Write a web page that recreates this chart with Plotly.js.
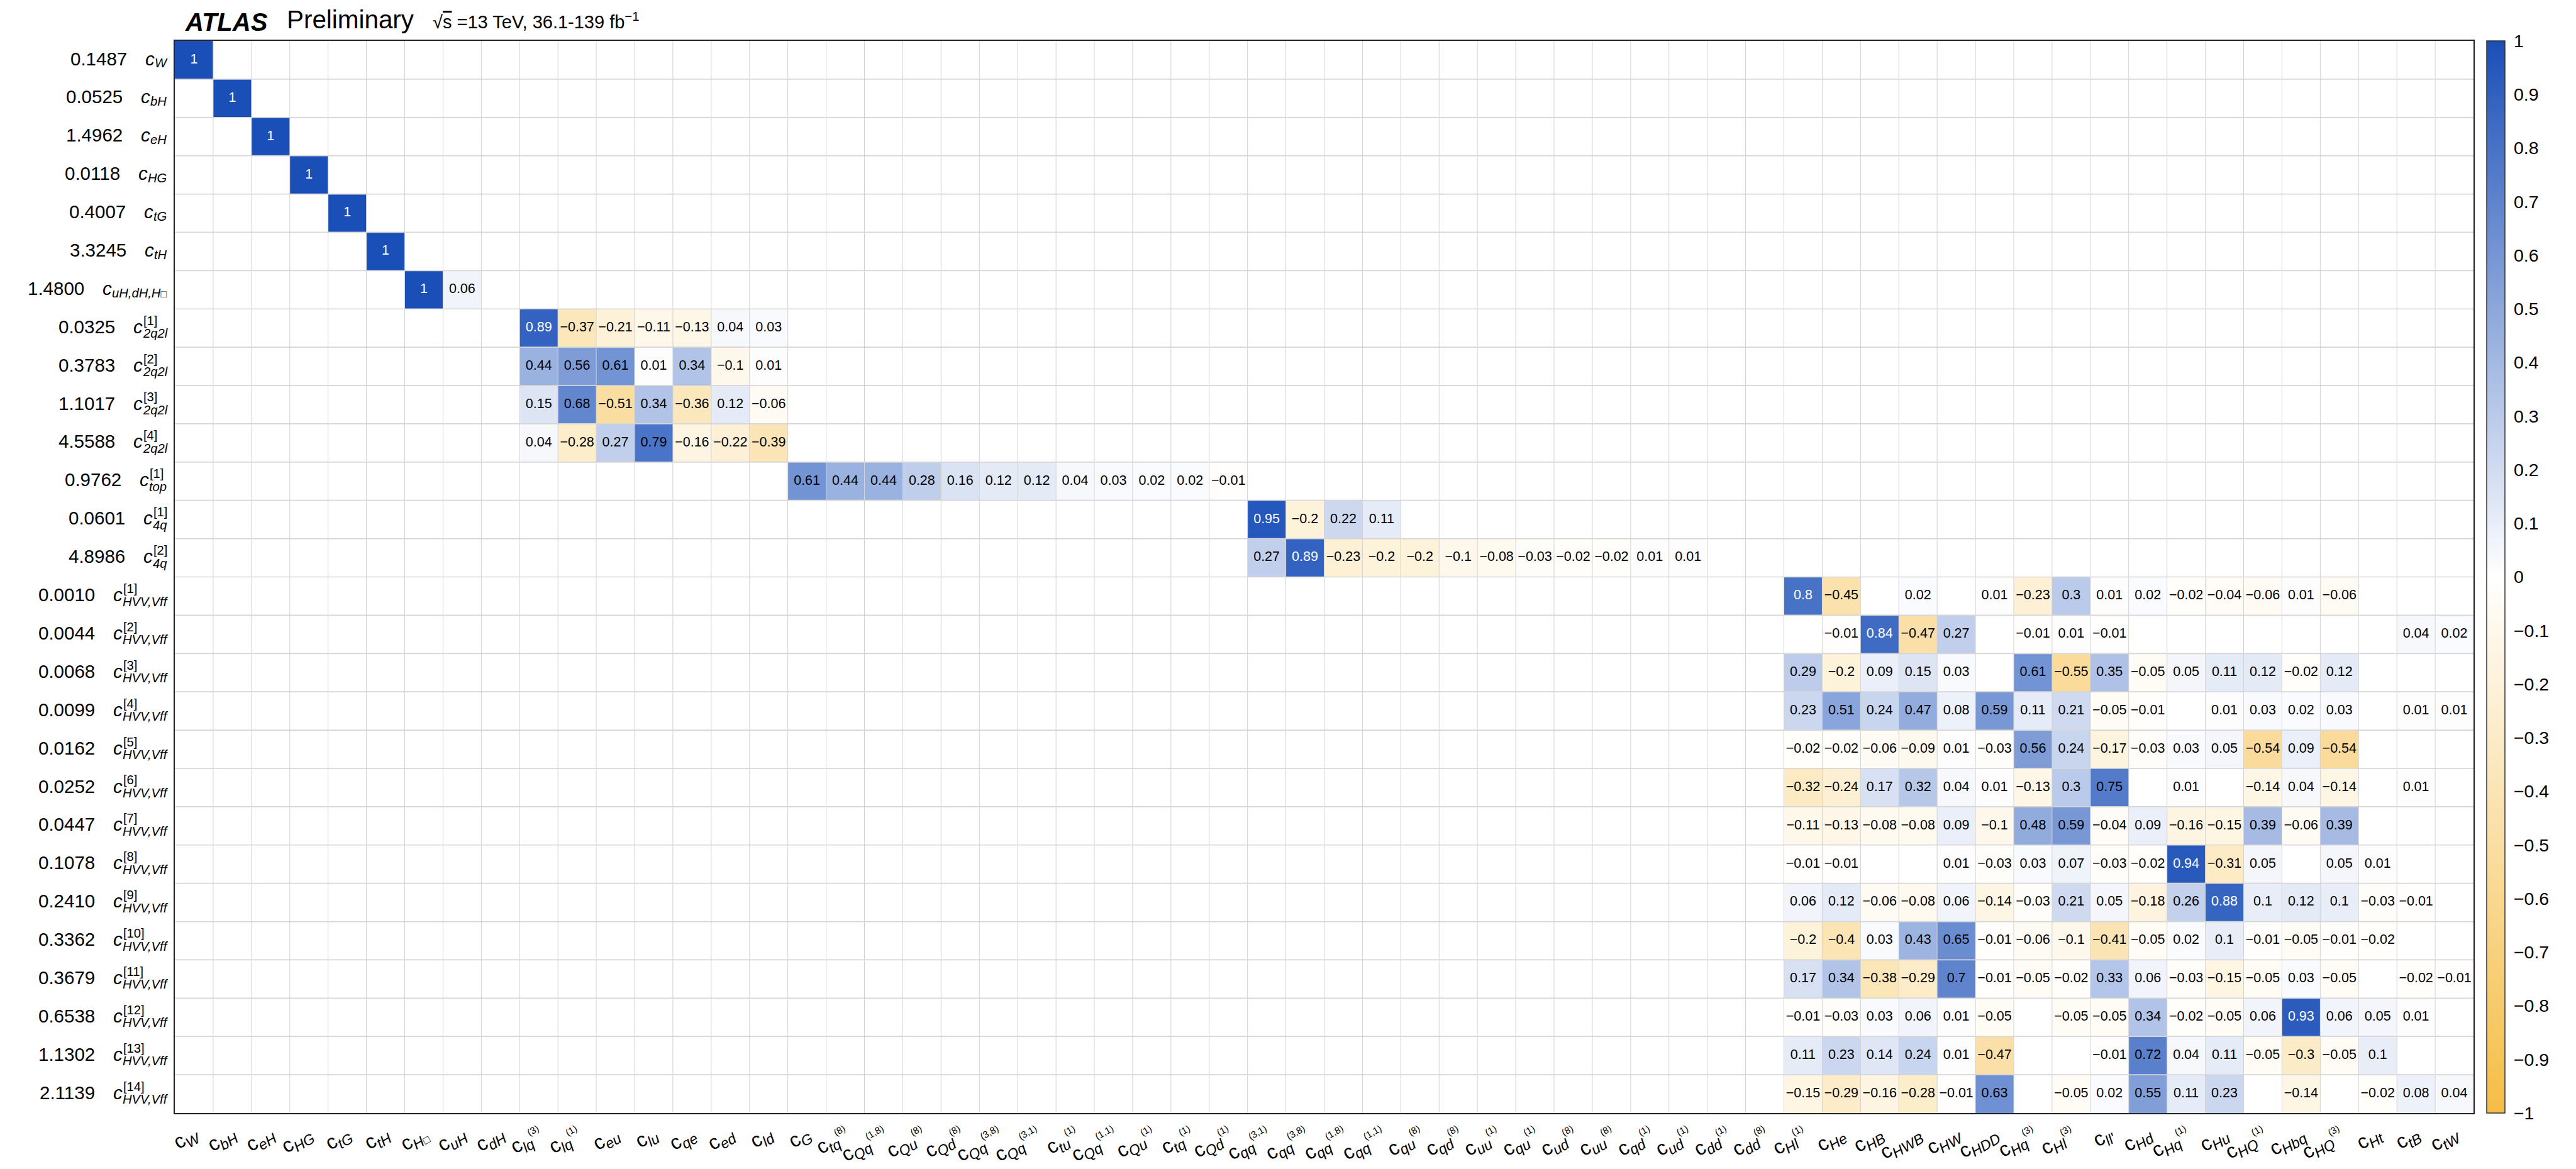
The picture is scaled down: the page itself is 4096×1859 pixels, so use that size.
<!DOCTYPE html>
<html><head><meta charset="utf-8">
<script src="https://cdn.plot.ly/plotly-3.0.1.min.js"></script>
<style>html,body{margin:0;padding:0;background:#fff}</style>
</head><body><div id="chart" style="width:4096px;height:1859px"></div>
<script>
// ---------- DATA ----------
const colSub = ['W','bH','eH','HG','tG','tH','H\u25A1','uH','dH','lq','lq','eu','lu','qe','ed','ld','G','tq','Qq','Qu','Qd','Qq','Qq','tu','Qq','Qu','tq','Qd','qq','qq','qq','qq','qu','qd','uu','qu','ud','uu','qd','ud','dd','dd','Hl','He','HB','HWB','HW','HDD','Hq','Hl',"ll'",'Hd','Hq','Hu','HQ','Hbq','HQ','Ht','tB','tW'];
const colSup = ['','','','','','','','','','(3)','(1)','','','','','','','(8)','(1,8)','(8)','(8)','(3,8)','(3,1)','(1)','(1,1)','(1)','(1)','(1)','(3,1)','(3,8)','(1,8)','(1,1)','(8)','(8)','(1)','(1)','(8)','(8)','(1)','(1)','(1)','(8)','(1)','','','','','','(3)','(3)','','','(1)','','(1)','','(3)','','',''];

const rowSub = ['W','bH','eH','HG','tG','tH','uH,dH,H\u25A1','2q2l','2q2l','2q2l','2q2l','top','4q','4q',
  'HVV,Vff','HVV,Vff','HVV,Vff','HVV,Vff','HVV,Vff','HVV,Vff','HVV,Vff','HVV,Vff','HVV,Vff','HVV,Vff','HVV,Vff','HVV,Vff','HVV,Vff','HVV,Vff'];
const rowSup = ['','','','','','','','[1]','[2]','[3]','[4]','[1]','[1]','[2]',
  '[1]','[2]','[3]','[4]','[5]','[6]','[7]','[8]','[9]','[10]','[11]','[12]','[13]','[14]'];
const rowUncert = ['0.1487','0.0525','1.4962','0.0118','0.4007','3.3245','1.4800','0.0325','0.3783','1.1017','4.5588','0.9762','0.0601','4.8986',
  '0.0010','0.0044','0.0068','0.0099','0.0162','0.0252','0.0447','0.1078','0.2410','0.3362','0.3679','0.6538','1.1302','2.1139'];

// first column (index into the column list) of each row's listed correlations
const rowStartCol = [0,1,2,3,4,5,6,9,9,9,9,16,28,28,42,42,42,42,42,42,42,42,42,42,42,42,42,42];

const corr_cW = [1];
const corr_cbH = [1];
const corr_ceH = [1];
const corr_cHG = [1];
const corr_ctG = [1];
const corr_ctH = [1];
const corr_cuHdHHbox = [1, 0.06];
const corr_2q2l_1 = [0.89,-0.37,-0.21,-0.11,-0.13,0.04,0.03];
const corr_2q2l_2 = [0.44,0.56,0.61,0.01,0.34,-0.1,0.01];
const corr_2q2l_3 = [0.15,0.68,-0.51,0.34,-0.36,0.12,-0.06];
const corr_2q2l_4 = [0.04,-0.28,0.27,0.79,-0.16,-0.22,-0.39];
const corr_top_1 = [0.61,0.44,0.44,0.28,0.16,0.12,0.12,0.04,0.03,0.02,0.02,-0.01];
const corr_4q_1 = [0.95,-0.2,0.22,0.11];
const corr_4q_2 = [0.27,0.89,-0.23,-0.2,-0.2,-0.1,-0.08,-0.03,-0.02,-0.02,0.01,0.01];
const corr_HVV_1 = [0.8,-0.45,null,0.02,null,0.01,-0.23,0.3,0.01,0.02,-0.02,-0.04,-0.06,0.01,-0.06,null,null,null];
const corr_HVV_2 = [null,-0.01,0.84,-0.47,0.27,null,-0.01,0.01,-0.01,null,null,null,null,null,null,null,0.04,0.02];
const corr_HVV_3 = [0.29,-0.2,0.09,0.15,0.03,null,0.61,-0.55,0.35,-0.05,0.05,0.11,0.12,-0.02,0.12,null,null,null];
const corr_HVV_4 = [0.23,0.51,0.24,0.47,0.08,0.59,0.11,0.21,-0.05,-0.01,null,0.01,0.03,0.02,0.03,null,0.01,0.01];
const corr_HVV_5 = [-0.02,-0.02,-0.06,-0.09,0.01,-0.03,0.56,0.24,-0.17,-0.03,0.03,0.05,-0.54,0.09,-0.54,null,null,null];
const corr_HVV_6 = [-0.32,-0.24,0.17,0.32,0.04,0.01,-0.13,0.3,0.75,null,0.01,null,-0.14,0.04,-0.14,null,0.01,null];
const corr_HVV_7 = [-0.11,-0.13,-0.08,-0.08,0.09,-0.1,0.48,0.59,-0.04,0.09,-0.16,-0.15,0.39,-0.06,0.39,null,null,null];
const corr_HVV_8 = [-0.01,-0.01,null,null,0.01,-0.03,0.03,0.07,-0.03,-0.02,0.94,-0.31,0.05,null,0.05,0.01,null,null];
const corr_HVV_9 = [0.06,0.12,-0.06,-0.08,0.06,-0.14,-0.03,0.21,0.05,-0.18,0.26,0.88,0.1,0.12,0.1,-0.03,-0.01,null];
const corr_HVV_10 = [-0.2,-0.4,0.03,0.43,0.65,-0.01,-0.06,-0.1,-0.41,-0.05,0.02,0.1,-0.01,-0.05,-0.01,-0.02,null,null];
const corr_HVV_11 = [0.17,0.34,-0.38,-0.29,0.7,-0.01,-0.05,-0.02,0.33,0.06,-0.03,-0.15,-0.05,0.03,-0.05,null,-0.02,-0.01];
const corr_HVV_12 = [-0.01,-0.03,0.03,0.06,0.01,-0.05,null,-0.05,-0.05,0.34,-0.02,-0.05,0.06,0.93,0.06,0.05,0.01,null];
const corr_HVV_13 = [0.11,0.23,0.14,0.24,0.01,-0.47,null,null,-0.01,0.72,0.04,0.11,-0.05,-0.3,-0.05,0.1,null,null];
const corr_HVV_14 = [-0.15,-0.29,-0.16,-0.28,-0.01,0.63,null,-0.05,0.02,0.55,0.11,0.23,null,-0.14,null,-0.02,0.08,0.04];

const rowCorr = [corr_cW,corr_cbH,corr_ceH,corr_cHG,corr_ctG,corr_ctH,corr_cuHdHHbox,
  corr_2q2l_1,corr_2q2l_2,corr_2q2l_3,corr_2q2l_4,corr_top_1,corr_4q_1,corr_4q_2,
  corr_HVV_1,corr_HVV_2,corr_HVV_3,corr_HVV_4,corr_HVV_5,corr_HVV_6,corr_HVV_7,
  corr_HVV_8,corr_HVV_9,corr_HVV_10,corr_HVV_11,corr_HVV_12,corr_HVV_13,corr_HVV_14];

// ---------- BUILD ----------
const NC = colSub.length, NR = rowSub.length;
const FONT = '"Liberation Sans", Arial, Helvetica, sans-serif';
const BOX = '\u25A1';
const z = [];
const tx = [], ty = [], tt = [], tc = [];
for (let r = 0; r < NR; r++) {
  const row = new Array(NC).fill(null);
  rowCorr[r].forEach((v, k) => {
    const c = rowStartCol[r] + k;
    row[c] = v;
    if (v !== null) {
      tx.push(c); ty.push(r);
      tt.push(String(v).replace('-', '\u2212'));
      tc.push(v >= 0.8 ? '#ffffff' : '#000000');
    }
  });
  z.push(row);
}
const xIdx = colSub.map((_, i) => i);
const yIdx = rowSub.map((_, i) => i);
const XSUB = 23, XSUP = 15;
const tickText = colSub.map((s, i) => 'c<sub><span style="font-size:' + XSUB + 'px"><i>' +
  s.replace(BOX, '</i><span style="font-size:17px">' + BOX + '</span><i>') + '</i></span></sub>' +
  (colSup[i] ? '<sup><span style="font-size:' + XSUP + 'px">' + colSup[i] + '</span></sup>' : ''));

const L = 278, R_M = 163, T = 65, B = 89;
const W = 4096 - L - R_M, H = 1859 - T - B;
const pxX = px => (px - L) / W;
const pxY = py => (1859 - B - py) / H;

const heat = {
  type: 'heatmap', x: xIdx, y: yIdx, z: z, zmin: -1, zmax: 1,
  colorscale: [[0, '#f5bd45'], [0.5, '#ffffff'], [1, '#1a4fb8']],
  hoverinfo: 'skip',
  colorbar: {
    x: pxX(3954), xanchor: 'left', xpad: 0, y: 0.5, yanchor: 'middle', ypad: 0,
    len: 1, lenmode: 'fraction', thickness: 29, thicknessmode: 'pixels',
    outlinewidth: 1.5, outlinecolor: '#333', tickmode: 'linear', tick0: 0, dtick: 0.1,
    ticks: 'outside', ticklen: 8, tickcolor: 'rgba(0,0,0,0)',
    tickfont: {family: FONT, size: 28.5, color: '#000'}
  }
};
const txt = {
  type: 'scatter', mode: 'text', x: tx, y: ty, text: tt,
  textfont: {family: FONT, size: 21.5, color: tc}, hoverinfo: 'skip', showlegend: false
};

// grid shapes
const shapes = [];
for (let i = 1; i < NC; i++) shapes.push({type: 'line', xref: 'x', yref: 'paper', x0: i - 0.5, x1: i - 0.5, y0: 0, y1: 1, line: {color: '#d2d2d2', width: 1}, layer: 'above'});
for (let j = 1; j < NR; j++) shapes.push({type: 'line', xref: 'paper', yref: 'y', x0: 0, x1: 1, y0: j - 0.5, y1: j - 0.5, line: {color: '#d6d6d6', width: 1.7}, layer: 'above'});

// y labels
const FS = 29.5, FSS = 20.2, BOXS = 16;
const cv = document.createElement('canvas').getContext('2d');
function mw(s, size, italic) { cv.font = (italic ? 'italic ' : '') + size + 'px "Liberation Sans"'; return cv.measureText(s).width; }
function subWidth(s) { return s.includes(BOX) ? mw(s.replace(BOX, ''), FSS, true) + mw(BOX, BOXS, false) : mw(s, FSS, true); }
function subHtml(s) { return '<i>' + s.replace(BOX, '</i><span style="font-size:' + BOXS + 'px">' + BOX + '</span><i>') + '</i>'; }
const REdge = 265;
const ann = [];
const base = {showarrow: false, borderpad: 0, borderwidth: 0, yref: 'y', yanchor: 'middle'};
for (let r = 0; r < NR; r++) {
  const wc = mw('c', FS, true);
  const wsub = subWidth(rowSub[r]);
  const wsup = rowSup[r] ? mw(rowSup[r], FSS, false) : 0;
  const left = REdge - wc - Math.max(wsub, wsup);
  ann.push(Object.assign({}, base, {text: '<i>c</i>', x: pxX(left), xref: 'paper', xanchor: 'left', y: r, yshift: 2.4, font: {family: FONT, size: FS, color: '#000'}}));
  ann.push(Object.assign({}, base, {text: subHtml(rowSub[r]), x: pxX(left + wc), xref: 'paper', xanchor: 'left', y: r, yshift: rowSup[r] ? -8.6 : -4.8, font: {family: FONT, size: FSS, color: '#000'}}));
  if (rowSup[r]) ann.push(Object.assign({}, base, {text: rowSup[r], x: pxX(left + wc + 1), xref: 'paper', xanchor: 'left', y: r, yshift: 12, font: {family: FONT, size: FSS, color: '#000'}}));
  ann.push(Object.assign({}, base, {text: rowUncert[r], x: pxX(left - 29), xref: 'paper', xanchor: 'right', y: r, yshift: 2.4, font: {family: FONT, size: FS, color: '#000'}}));
}
// header
const hb = {showarrow: false, borderpad: 0, borderwidth: 0, xref: 'paper', yref: 'paper', xanchor: 'left', yanchor: 'middle'};
ann.push(Object.assign({}, hb, {text: '<b><i>ATLAS</i></b>', x: pxX(293.5), y: pxY(35.5), font: {family: FONT, size: 40, color: '#000'}}));
ann.push(Object.assign({}, hb, {text: 'Preliminary', x: pxX(455.5), y: pxY(31), font: {family: FONT, size: 40.4, color: '#000'}}));
ann.push(Object.assign({}, hb, {text: '\u221A<span style="text-decoration:overline">s</span> =13 TeV, 36.1-139 fb<sup>\u22121</sup>', x: pxX(687.5), y: pxY(33), font: {family: FONT, size: 29, color: '#000'}}));

const layout = {
  width: 4096, height: 1859, margin: {l: L, r: R_M, t: T, b: B, pad: 0},
  paper_bgcolor: '#fff', plot_bgcolor: '#fff', showlegend: false,
  font: {family: FONT, color: '#000'},
  xaxis: {range: [-0.5, NC - 0.5], tickmode: 'array', tickvals: xIdx, ticktext: tickText, tickangle: -30,
    showgrid: false, zeroline: false, showline: true, mirror: true, linecolor: '#222', linewidth: 2,
    ticks: '', ticklabelstandoff: 1, tickfont: {family: FONT, size: 32, color: '#000'}, fixedrange: true},
  yaxis: {range: [NR - 0.5, -0.5], showticklabels: false, showgrid: false, zeroline: false,
    showline: true, mirror: true, linecolor: '#222', linewidth: 2, ticks: '', fixedrange: true},
  shapes: shapes, annotations: ann
};
Plotly.newPlot('chart', [heat, txt], layout, {staticPlot: true, displayModeBar: false});
</script></body></html>
